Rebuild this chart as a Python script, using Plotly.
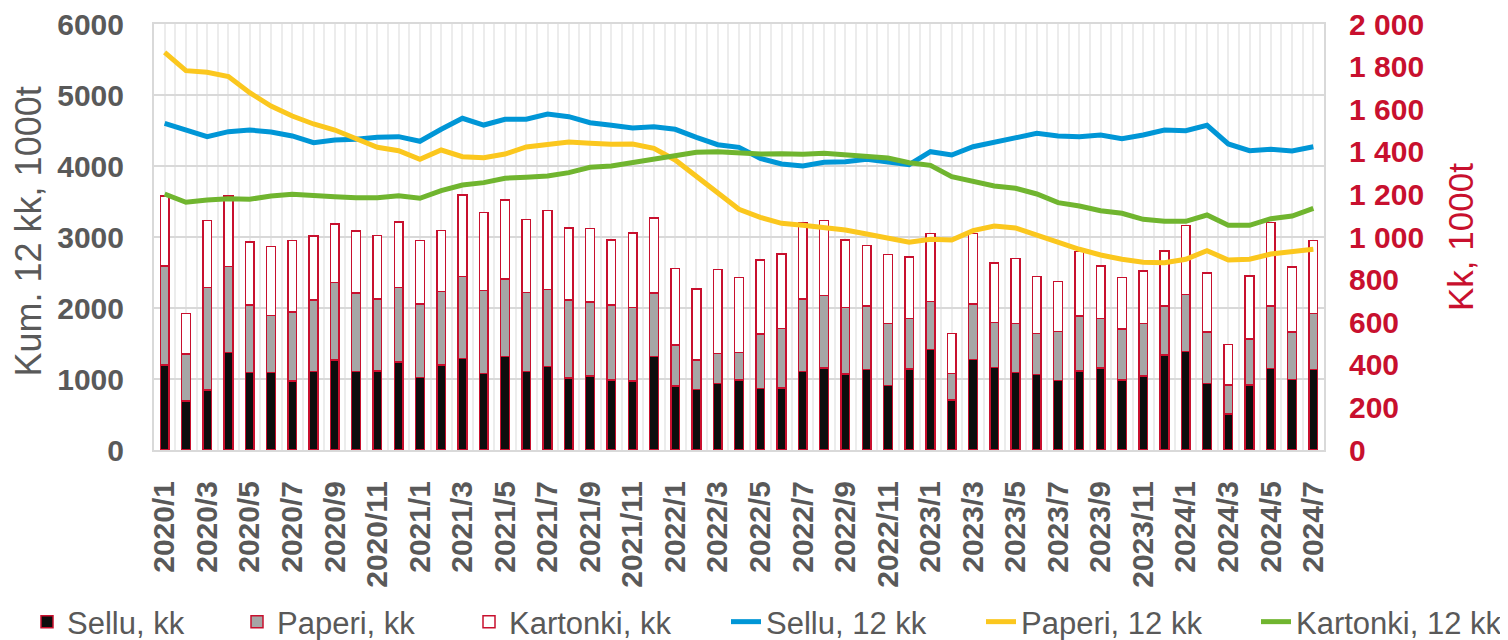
import plotly.graph_objects as go

# ---- data -------------------------------------------------------------
months = [f"{y}/{m}" for y in range(2020, 2025) for m in range(1, 13)][:55]
tick_labels = months[::2]

# monthly deliveries (kk, 1000 t) - right axis, stacked bars
sellu_kk = [399, 230, 282, 457, 365, 365, 324, 368, 423, 368, 371, 412,
            340, 399, 430, 360, 438, 368, 391, 338, 347, 329, 325, 440,
            300, 285, 313, 329, 288, 290, 369, 385, 358, 377, 304, 380,
            473, 235, 426, 388, 365, 355, 327, 372, 385, 329, 347, 447,
            462, 313, 168, 305, 383, 332, 379]
paperi_kk = [465, 221, 482, 404, 316, 267, 325, 336, 363, 368, 339, 352,
             345, 344, 385, 388, 366, 371, 363, 366, 348, 352, 345, 296,
             194, 138, 141, 128, 257, 281, 340, 340, 312, 299, 291, 238,
             225, 125, 259, 210, 228, 193, 229, 257, 233, 238, 248, 229,
             269, 240, 137, 216, 293, 221, 263]
kartonki_kk = [328, 191, 313, 331, 296, 323, 334, 301, 275, 292, 298, 306,
               298, 287, 382, 366, 370, 343, 370, 338, 344, 304, 349, 353,
               357, 333, 394, 352, 347, 349, 358, 352, 317, 283, 322, 288,
               319, 188, 332, 281, 305, 267, 236, 304, 247, 244, 245, 258,
               324, 277, 191, 296, 391, 306, 341]

# rolling 12-month totals (1000 t) - left axis, lines
sellu_12 = [4601, 4507, 4413, 4484, 4507, 4479, 4423, 4329, 4366, 4376, 4404, 4413,
            4348, 4517, 4672, 4577, 4657, 4660, 4733, 4695, 4610, 4573, 4535, 4554,
            4517, 4404, 4300, 4263, 4108, 4028, 4000, 4052, 4061, 4094, 4061, 4020,
            4202, 4155, 4272, 4329, 4404, 4460, 4423, 4413, 4437, 4385, 4437, 4507,
            4498, 4573, 4310, 4216, 4235, 4211, 4272]
paperi_12 = [5601, 5343, 5320, 5259, 5033, 4845, 4704, 4592, 4507, 4390, 4263, 4216,
             4094, 4225, 4131, 4117, 4169, 4268, 4310, 4338, 4320, 4305, 4310, 4249,
             4085, 3859, 3615, 3390, 3277, 3193, 3165, 3136, 3099, 3042, 2976, 2925,
             2967, 2958, 3089, 3155, 3127, 3028, 2911, 2827, 2747, 2686, 2644, 2639,
             2686, 2808, 2676, 2686, 2761, 2798, 2827]
kartonki_12 = [3606, 3489, 3521, 3540, 3531, 3578, 3601, 3592, 3568, 3554, 3554, 3582,
               3545, 3653, 3733, 3766, 3827, 3843, 3859, 3906, 3981, 4000, 4047, 4094,
               4150, 4193, 4202, 4188, 4169, 4174, 4164, 4178, 4155, 4131, 4113, 4047,
               4009, 3850, 3780, 3718, 3686, 3606, 3484, 3437, 3371, 3334, 3249, 3221,
               3221, 3310, 3165, 3165, 3258, 3296, 3404]

# ---- styling ----------------------------------------------------------
GRAY_TXT = "#595959"
RED = "#C8102E"
FONT = "Liberation Sans, Arial, sans-serif"
# the page body adds an 8px offset; the figure fills the rest of the window
OFF = 8
W, H = 1508 - OFF, 640 - OFF
PLOT_L, PLOT_R, PLOT_T, PLOT_B = 154, 1324, 24, 450  # screen px

x = list(range(len(months)))

fig = go.Figure()
bar_line = dict(color=RED, width=1.5)
fig.add_trace(go.Bar(x=x, y=sellu_kk, name="Sellu, kk", legend="legend",
                     marker=dict(color="#0d0d0d", line=bar_line)))
fig.add_trace(go.Bar(x=x, y=paperi_kk, name="Paperi, kk", legend="legend2",
                     marker=dict(color="#a6a6a6", line=bar_line)))
fig.add_trace(go.Bar(x=x, y=kartonki_kk, name="Kartonki, kk", legend="legend3",
                     marker=dict(color="#ffffff", line=bar_line)))

fig.add_trace(go.Scatter(x=x, y=sellu_12, name="Sellu, 12 kk", yaxis="y2",
                         legend="legend4",
                         mode="lines", line=dict(color="#0096D6", width=5)))
fig.add_trace(go.Scatter(x=x, y=paperi_12, name="Paperi, 12 kk", yaxis="y2",
                         legend="legend5",
                         mode="lines", line=dict(color="#FBC71E", width=5)))
fig.add_trace(go.Scatter(x=x, y=kartonki_12, name="Kartonki, 12 kk", yaxis="y2",
                         legend="legend6",
                         mode="lines", line=dict(color="#70B52F", width=5)))

# legend text start positions (screen px) in the reference
legend_text_x = [68, 278, 510, 767, 1022, 1297]


def legend_at(px):
    return dict(orientation="h", xref="container", yref="container",
                x=(px - OFF - 41) / W, xanchor="left",
                y=(640 - 622) / H, yanchor="middle",
                font=dict(size=31, color=GRAY_TXT, family=FONT),
                bgcolor="rgba(0,0,0,0)", borderwidth=0)


legends = {("legend" if i == 0 else f"legend{i + 1}"): legend_at(px)
           for i, px in enumerate(legend_text_x)}

plot_w = PLOT_R - PLOT_L

fig.update_layout(
    width=W, height=H,
    margin=dict(l=PLOT_L - OFF, r=W - (PLOT_R - OFF), t=PLOT_T - OFF,
                b=H - (PLOT_B - OFF), autoexpand=False),
    paper_bgcolor="white", plot_bgcolor="white",
    barmode="stack", bargap=0.59,
    separators=", ",
    font=dict(family=FONT, color=GRAY_TXT),
    showlegend=True,
    xaxis=dict(
        range=[-0.5, len(months) - 0.5], automargin=False,
        tickmode="array", tickvals=x[::2], ticktext=tick_labels,
        tickangle=-90, ticklabeloverflow="allow",
        tickfont=dict(size=30, color=GRAY_TXT, family=FONT, weight="bold"),
        showgrid=False, zeroline=False,
        showline=True, linecolor="#d9d9d9", linewidth=2, mirror=True,
        ticks="", ticklabelstandoff=17,
        minor=dict(tickmode="linear", tick0=-0.5, dtick=0.5, showgrid=True,
                   gridcolor="#ececec", gridwidth=1.5, ticks=""),
    ),
    yaxis=dict(
        side="right", range=[0, 2000], tickmode="linear", tick0=0, dtick=200,
        tickformat=",d", automargin=False, ticklabeloverflow="allow",
        tickfont=dict(size=30, color=RED, family=FONT, weight="bold"),
        showgrid=False, zeroline=False,
        showline=True, linecolor="#d9d9d9", linewidth=2,
        ticks="", ticklabelstandoff=17,
    ),
    yaxis2=dict(
        overlaying="y", side="left", range=[0, 6000], tickmode="linear",
        tick0=0, dtick=1000, tickformat="d", automargin=False,
        ticklabeloverflow="allow",
        tickfont=dict(size=30, color=GRAY_TXT, family=FONT, weight="bold"),
        showgrid=True, gridcolor="#d9d9d9", gridwidth=2, zeroline=False,
        showline=True, linecolor="#d9d9d9", linewidth=2,
        ticks="", ticklabelstandoff=22,
    ),
    annotations=[
        dict(text="Kum. 12 kk, 1000t", xref="paper", yref="paper",
             x=(28 - PLOT_L) / plot_w, y=0.513, xanchor="center",
             yanchor="middle", textangle=-90, showarrow=False,
             font=dict(size=36, color=GRAY_TXT, family=FONT)),
        dict(text="Kk, 1000t", xref="paper", yref="paper",
             x=(1460 - PLOT_L) / plot_w, y=0.5, xanchor="center",
             yanchor="middle", textangle=-90, showarrow=False,
             font=dict(size=35, color=RED, family=FONT)),
    ],
    **legends,
)

fig.write_html("out.html")
